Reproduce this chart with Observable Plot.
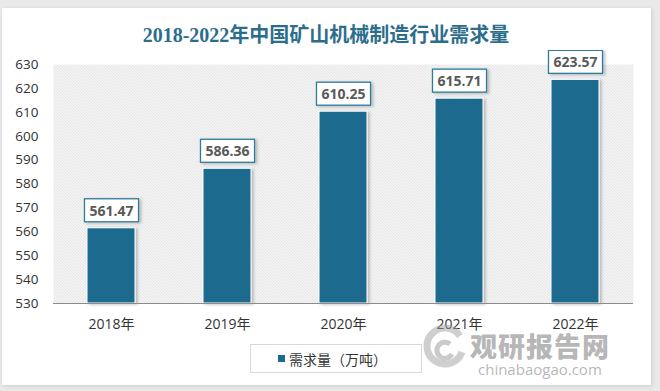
<!DOCTYPE html>
<html><head><meta charset="utf-8">
<script src="https://cdn.jsdelivr.net/npm/d3@7"></script>
<script src="https://cdn.jsdelivr.net/npm/@observablehq/plot@0.6"></script>
<style>
html,body{margin:0;padding:0;}
body{width:660px;height:391px;background:#e9e9e9;position:relative;overflow:hidden;font-family:"Noto Sans CJK SC","Open Sans",sans-serif;}
#panel{position:absolute;left:2px;top:8px;width:649px;height:377px;background:#fff;box-shadow:1px 1px 4px rgba(0,0,0,0.12);}
#title{position:absolute;left:0;top:19px;width:652px;text-align:center;font-family:"Liberation Serif","Noto Sans CJK SC",serif;font-weight:bold;font-size:20px;color:#2d6d8c;}
#chart{position:absolute;left:0;top:50px;}
#legend{position:absolute;left:250px;top:344px;width:172px;height:29px;border:1px solid #d9d9d9;box-sizing:border-box;background:#fff;font-size:14px;color:#333;display:flex;align-items:center;}
#legend .sw{display:inline-block;width:7px;height:7px;background:#1c6a8e;margin-left:27px;margin-right:4px;}
#wm{position:absolute;left:470px;top:331px;color:rgba(120,120,120,0.55);pointer-events:none;}
#wm .cn{font-size:27px;font-weight:900;letter-spacing:1px;line-height:30px;font-family:"Noto Sans CJK SC",sans-serif;}
#wm .en{font-size:15px;line-height:17px;font-family:"Open Sans",sans-serif;margin-left:8px;}
#logo{position:absolute;left:420px;top:322px;width:48px;height:48px;}
</style></head>
<body>
<div id="panel"></div>
<div id="title">2018-2022年中国矿山机械制造行业需求量</div>
<div id="chart"></div>
<div id="legend"><span class="sw"></span><span>需求量（万吨）</span></div>
<svg id="logo" viewBox="0 0 48 48"><path d="M40 14 A18 18 0 1 0 42 30" fill="none" stroke="rgba(160,160,160,0.5)" stroke-width="7"/><path d="M30 22 A8 8 0 1 0 32 32" fill="none" stroke="rgba(150,150,150,0.5)" stroke-width="5"/></svg>
<div id="wm"><div class="cn">观研报告网</div><div class="en">chinabaogao.com</div></div>
<script>
const years = ["2018年","2019年","2020年","2021年","2022年"];
const demand = [561.47, 586.36, 610.25, 615.71, 623.57];
const yTicks = [530,540,550,560,570,580,590,600,610,620,630];
const baseline = 530;
const seriesName = "需求量（万吨）";

const data = years.map((y,i)=>({year:y, value:demand[i]}));

const chart = Plot.plot({
  width: 660,
  height: 288,
  marginLeft: 53,
  marginRight: 27,
  marginTop: 14,
  marginBottom: 35,
  style: {fontFamily: "'Open Sans','Noto Sans CJK SC',sans-serif", fontSize: "13px", color: "#333333", background: "transparent"},
  x: {domain: years, paddingInner: 0.586, paddingOuter: 0.293, label: null},
  y: {domain: [530, 630], label: null},
  marks: [
    Plot.frame({fill: "url(#hatch)", stroke: "none"}),
    Plot.axisY({ticks: yTicks, tickSize: 0, tickPadding: 15, fontSize: 13.5, tickFormat: d=>String(d)}),
    Plot.axisX({tickSize: 0, tickPadding: 16, fontSize: 14}),
    Plot.barY(data, {x: "year", y1: baseline, y2: "value", fill: "#1c6a8e", stroke: "#ffffff", strokeWidth: 1, className: "bars"}),
    Plot.ruleY([baseline], {stroke: "#8c8c8c", strokeWidth: 1}),
    Plot.text(data, {x: "year", y: "value", text: d=>d.value.toFixed(2), dy: -17, fill: "#595959", fontWeight: "bold", fontSize: 14, className: "vlabels"})
  ]
});
document.getElementById("chart").appendChild(chart);

const ns = "http://www.w3.org/2000/svg";
const defs = document.createElementNS(ns, "defs");
defs.innerHTML = `<pattern id="hatch" patternUnits="userSpaceOnUse" width="3" height="3">
  <rect width="3" height="3" fill="#ffffff"/>
  <path d="M-1,-1 L4,4 M-1,2 L1,4 M2,-1 L4,1" stroke="#cdcdcd" stroke-width="1"/>
</pattern>
<filter id="shadow" x="-20%" y="-20%" width="140%" height="140%">
  <feDropShadow dx="2" dy="1" stdDeviation="1.5" flood-color="#000" flood-opacity="0.25"/>
</filter>`;
chart.insertBefore(defs, chart.firstChild);
chart.querySelectorAll("g.bars rect").forEach(r=>r.setAttribute("filter","url(#shadow)"));

chart.querySelectorAll("g.vlabels text").forEach(t=>{
  const b = t.getBBox();
  const tr = t.getAttribute("transform");
  const rect = document.createElementNS(ns, "rect");
  rect.setAttribute("x", b.x - 5);
  rect.setAttribute("y", b.y - 2);
  rect.setAttribute("width", b.width + 10);
  rect.setAttribute("height", b.height + 4);
  rect.setAttribute("fill", "#ffffff");
  rect.setAttribute("stroke", "#2f7b9d");
  rect.setAttribute("stroke-width", "1.3");
  rect.setAttribute("filter", "url(#shadow)");
  if (tr) rect.setAttribute("transform", tr);
  t.parentNode.insertBefore(rect, t);
});
</script>
</body></html>
